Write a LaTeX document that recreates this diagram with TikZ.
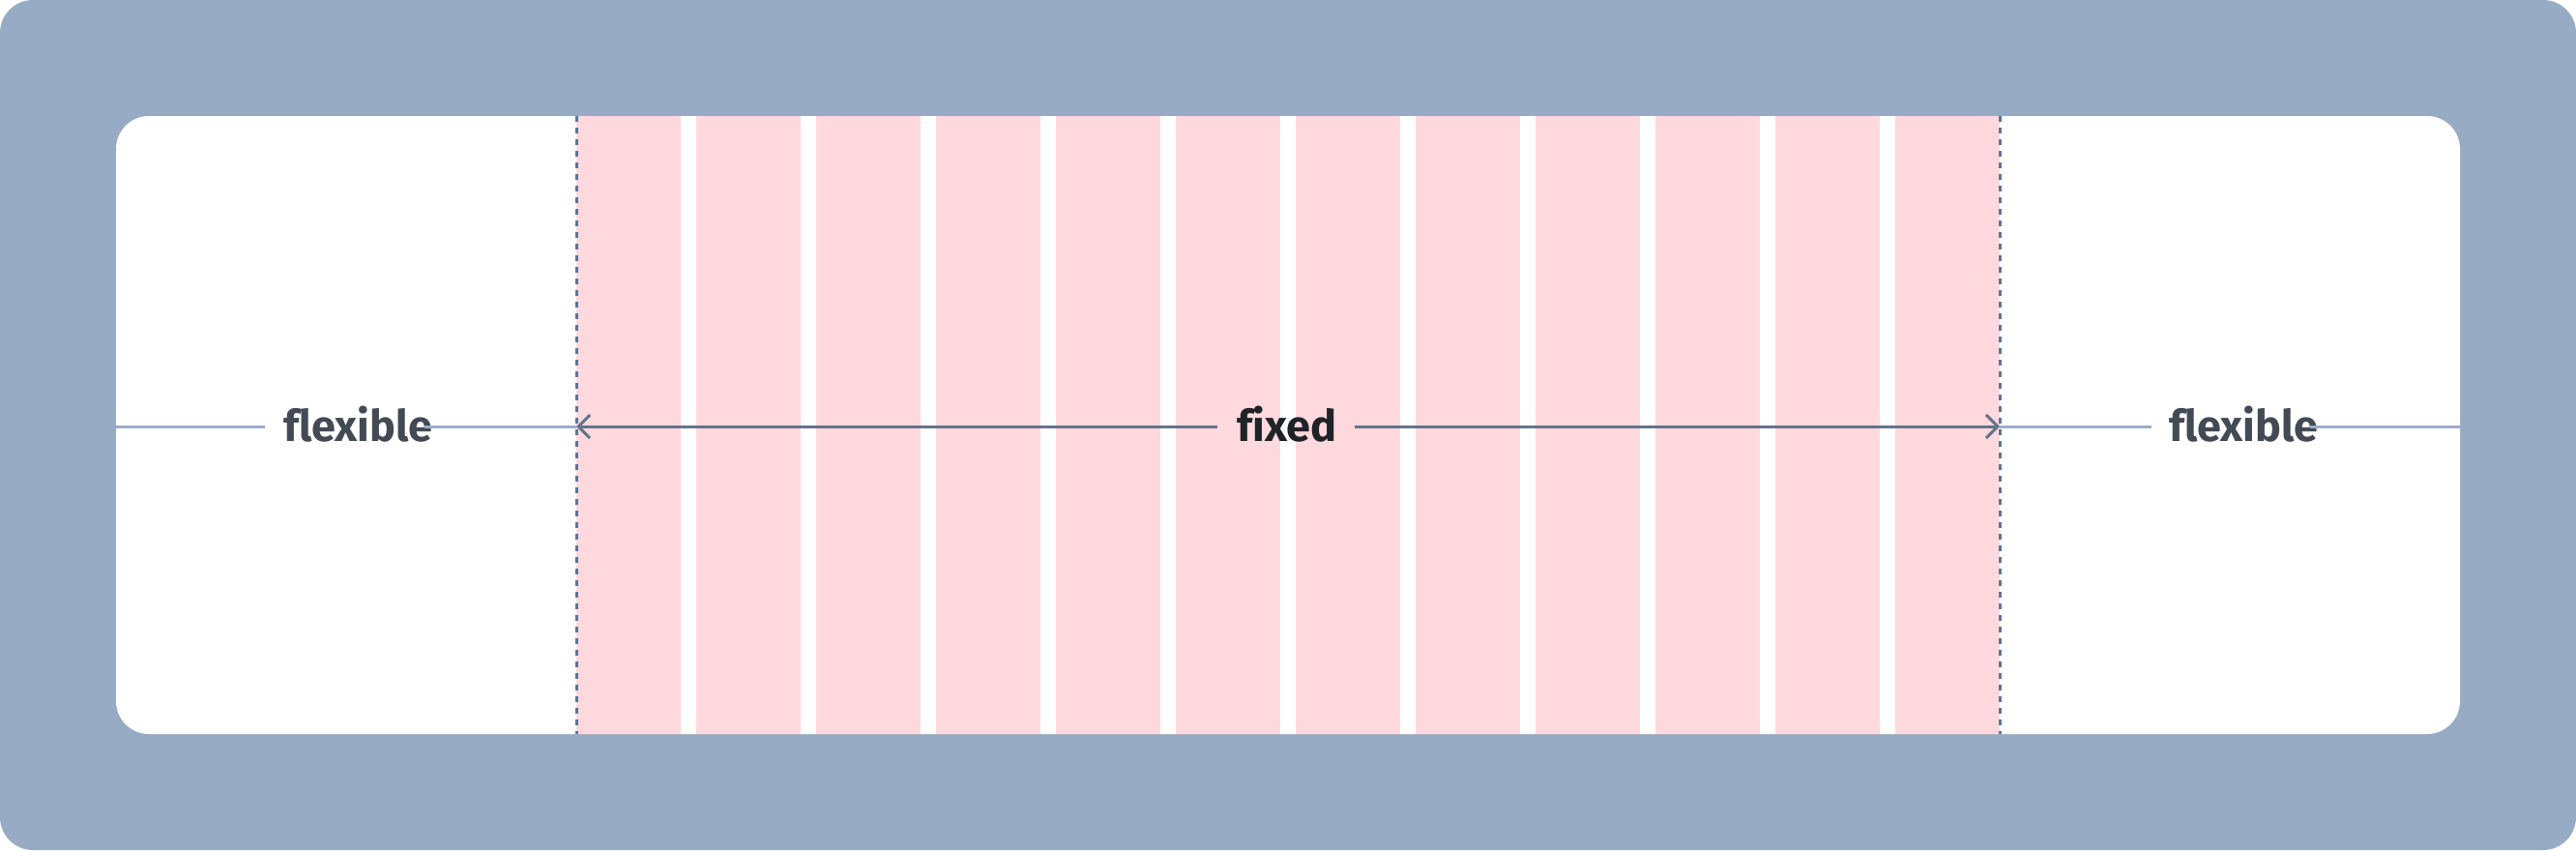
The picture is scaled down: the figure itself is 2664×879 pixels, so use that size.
\documentclass[tikz,border=0pt]{standalone}
\usepackage{fontspec}
\setmainfont{Fira Sans}[UprightFont={* Bold}, Ligatures={NoCommon}]
\usetikzlibrary{arrows.meta,calc}
\definecolor{outerblue}{HTML}{98ABC5}
\definecolor{colpink}{HTML}{FFD9DE}
\definecolor{dashcol}{HTML}{5F7592}
\definecolor{flexcol}{HTML}{9AAECB}
\definecolor{arrowcol}{HTML}{64748B}
\definecolor{flextext}{HTML}{434A54}
\definecolor{fixtext}{HTML}{1F2328}
\tikzset{
  colbox/.style={fill=colpink},
  guide/.style={draw=dashcol, line width=3pt, dash pattern=on 6pt off 6pt},
  flexline/.style={draw=flexcol, line width=3pt},
  fixline/.style={draw=arrowcol, line width=3pt},
  chev/.style={-{Straight Barb[length=12pt,width=24pt,line width=3pt]}},
  lbl/.style={inner sep=0pt, anchor=base, font=\fontsize{45}{50}\selectfont},
}
\begin{document}
\begin{tikzpicture}[x=1pt,y=-1pt]
\useasboundingbox (0,0) rectangle (2664,879);
\fill[outerblue, rounded corners=34pt] (0,0) rectangle (2664,879);
\fill[white, rounded corners=34pt] (120,120) rectangle (2544,759);
\foreach \i in {0,...,11}
  \fill[colbox] ({596+\i*124},120) rectangle ({596+\i*124+108},759);
\coordinate (lt) at (596,120);
\coordinate (lb) at (596,759);
\coordinate (rt) at (2068,120);
\coordinate (rb) at (2068,759);
\draw[guide] (lt) -- (lb);
\draw[guide] (rt) -- (rb);
\coordinate (L0) at (120,441);
\coordinate (Ld) at (596,441);
\coordinate (Rd) at (2068,441);
\coordinate (R0) at (2544,441);
\node[lbl, text=flextext] (fl) at (370,456) {flexible};
\node[lbl, text=fixtext] (fx) at (1331,456) {fixed};
\node[lbl, text=flextext] (fr) at (2320,456) {flexible};
\draw[flexline] (L0) -- ($(L0 -| fl.west)+(-19,0)$);
\draw[flexline] ($(L0 -| fl.east)+(-8,0)$) -- (Ld);
\draw[flexline] (Rd) -- ($(Rd -| fr.west)+(-18,0)$);
\draw[flexline] ($(Rd -| fr.east)+(-8,0)$) -- (R0);
\draw[fixline, chev] ($(Ld -| fx.west)+(-20,0)$) -- (Ld);
\draw[fixline, chev] ($(Rd -| fx.east)+(18,0)$) -- (Rd);
\end{tikzpicture}
\end{document}
